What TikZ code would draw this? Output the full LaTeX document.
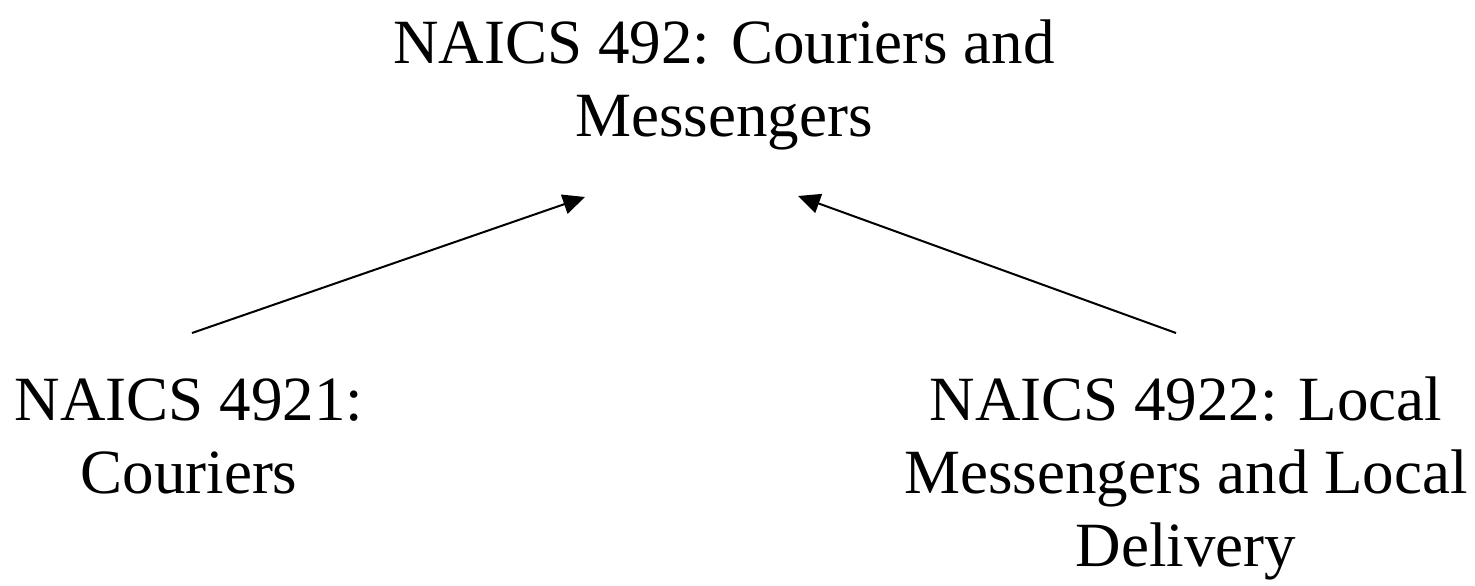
\documentclass[tikz,border=0pt]{standalone}
\usepackage{fontspec}
\setmainfont{Liberation Serif}
\usetikzlibrary{arrows.meta,positioning}
\tikzset{
    catsty/.style={align=center, inner sep=0pt, anchor=base, font=\fontsize{31.5}{36.5}\selectfont},
    linksty/.style={-{Triangle[length=11pt,width=10pt]}, line width=1pt},
}

\begin{document}
\begin{tikzpicture}[x=0.5pt,y=-0.5pt]
  \useasboundingbox (0,0) rectangle (1475,585);

  % industry groups (base = last line)
  \node[catsty] (naics492) at (724,136) {NAICS 492: Couriers and\\Messengers};
  \node[catsty] (naics4921) at (189,493) {NAICS 4921:\\Couriers};
  \node[catsty] (naics4922) at (1186,566) {NAICS 4922: Local\\Messengers and Local\\Delivery};

  % arrow ends
  \coordinate (lfoot) at (192,333);
  \coordinate (ltip) at (585,197);
  \coordinate (rfoot) at (1176,333);
  \coordinate (rtip) at (798,196);

  \draw[linksty] (lfoot) -- (ltip);
  \draw[linksty] (rfoot) -- (rtip);
\end{tikzpicture}
\end{document}
